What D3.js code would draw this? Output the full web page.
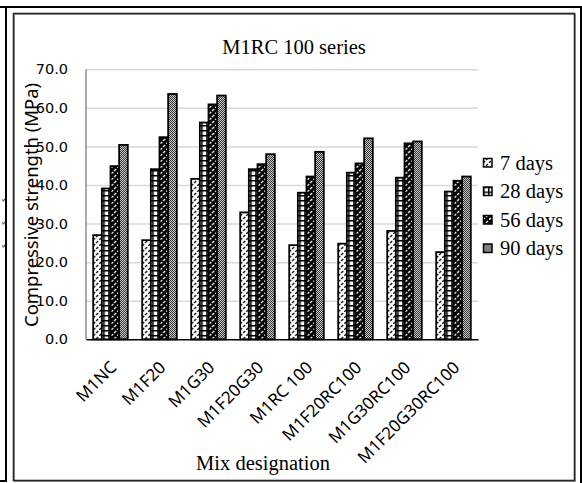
<!DOCTYPE html>
<html>
<head>
<meta charset="utf-8">
<script src="https://cdn.jsdelivr.net/npm/d3@7"></script>
<style>
  html, body { margin: 0; padding: 0; background: #fff; }
  svg { display: block; }
</style>
</head>
<body>
<svg id="chart" width="582" height="483"></svg>
<script>
// Compressive strength of the M1RC 100 series mixes at four curing ages (MPa)
const categories = ["M1NC", "M1F20", "M1G30", "M1F20G30", "M1RC 100", "M1F20RC100", "M1G30RC100", "M1F20G30RC100"];
const seriesNames = ["7 days", "28 days", "56 days", "90 days"];
const days7  = [27.0, 25.7, 41.6, 32.9, 24.4, 24.8, 28.1, 22.6];
const days28 = [39.1, 44.1, 56.2, 44.1, 38.0, 43.2, 41.9, 38.3];
const days56 = [44.9, 52.4, 60.9, 45.4, 42.2, 45.6, 50.8, 41.1];
const days90 = [50.4, 63.6, 63.2, 48.0, 48.6, 52.1, 51.3, 42.2];
const yTicks = [0, 10, 20, 30, 40, 50, 60, 70];

const seriesValues = [days7, days28, days56, days90];
const patternIds = ["pat7", "pat28", "pat56", "pat90"];

const svg = d3.select("#chart");
const serif = "'Liberation Serif', 'Times New Roman', serif";
const sans = "'Noto Sans', 'DejaVu Sans', sans-serif";

// ---- fill patterns ----
const defs = svg.append("defs");

// light dashed upward diagonal
const p7 = defs.append("pattern").attr("id", "pat7").attr("patternUnits", "userSpaceOnUse")
  .attr("width", 6).attr("height", 6);
p7.append("rect").attr("width", 6).attr("height", 6).attr("fill", "#fff");
p7.append("path").attr("d", "M0,6 L2,4 M3,3 L5,1").attr("stroke", "#000").attr("stroke-width", 1.3);

// large grid
const p28 = defs.append("pattern").attr("id", "pat28").attr("patternUnits", "userSpaceOnUse")
  .attr("width", 5).attr("height", 5);
p28.append("rect").attr("width", 5).attr("height", 5).attr("fill", "#fff");
p28.append("path").attr("d", "M0,0.75 H5 M0.75,0 V5").attr("stroke", "#000").attr("stroke-width", 1.5);

// dark dashed upward diagonal
const p56 = defs.append("pattern").attr("id", "pat56").attr("patternUnits", "userSpaceOnUse")
  .attr("width", 6).attr("height", 6);
p56.append("rect").attr("width", 6).attr("height", 6).attr("fill", "#000");
p56.append("path").attr("d", "M0,6 L2,4 M3,3 L5,1").attr("stroke", "#fff").attr("stroke-width", 1.3);

// small checkerboard
const p90 = defs.append("pattern").attr("id", "pat90").attr("patternUnits", "userSpaceOnUse")
  .attr("width", 2).attr("height", 2);
p90.append("rect").attr("width", 2).attr("height", 2).attr("fill", "#fff");
p90.append("rect").attr("width", 1).attr("height", 1).attr("fill", "#000");
p90.append("rect").attr("x", 1).attr("y", 1).attr("width", 1).attr("height", 1).attr("fill", "#000");

// ---- frames ----
const frame = svg.append("g").attr("fill", "none");
frame.append("path").attr("d", "M0,7 H581 V483").attr("stroke", "#000").attr("stroke-width", 2);
frame.append("path").attr("d", "M6,7 V481 H0").attr("stroke", "#000").attr("stroke-width", 2);
frame.append("rect").attr("x", 14.5).attr("y", 14.5).attr("width", 561).attr("height", 467)
  .attr("stroke", "#a6a6a6").attr("stroke-width", 1);
frame.append("rect").attr("x", 13.5).attr("y", 13.5).attr("width", 561).attr("height", 467)
  .attr("stroke", "#262626").attr("stroke-width", 1.6);

// small glyphs in the left margin
const edge = svg.append("g").attr("font-family", serif).attr("font-size", 9).attr("fill", "#000");
[200, 223, 246].forEach(yy => {
  edge.append("text").attr("transform", `translate(2.4,${yy}) rotate(90)`)
    .attr("text-anchor", "middle").text("s");
});

// ---- scales ----
const x = d3.scaleBand().domain(categories).range([86, 478]).paddingInner(0.294).paddingOuter(0.147);
const xs = d3.scaleBand().domain(seriesNames).range([0, x.bandwidth()]);
const y = d3.scaleLinear().domain([0, 70]).range([339.3, 69.3]);

// gridlines
const grid = svg.append("g").attr("transform", "translate(86,0)")
  .call(d3.axisLeft(y).tickValues(yTicks.filter(d => d > 0)).tickSize(-392).tickFormat(""));
grid.select(".domain").remove();
grid.selectAll("line").attr("stroke", "#d9d9d9").attr("stroke-width", 1.5);

// y axis line
svg.append("line").attr("x1", 86).attr("x2", 86).attr("y1", y(70)).attr("y2", y(0))
  .attr("stroke", "#595959").attr("stroke-width", 1);

// y tick labels
const yAxis = svg.append("g").attr("transform", "translate(86,0)")
  .call(d3.axisLeft(y).tickValues(yTicks).tickSize(0).tickPadding(18).tickFormat(d3.format(".1f")));
yAxis.select(".domain").remove();
yAxis.selectAll("text").attr("font-family", "'DejaVu Sans', sans-serif").attr("font-size", 14.5)
  .attr("fill", "#000");

// ---- bars ----
const groups = svg.append("g").selectAll("g").data(categories).join("g")
  .attr("transform", d => `translate(${x(d)},0)`);
groups.selectAll("rect")
  .data((c, i) => seriesNames.map((s, k) => ({ s, k, v: seriesValues[k][i] })))
  .join("rect")
  .attr("x", d => xs(d.s))
  .attr("y", d => y(d.v))
  .attr("width", xs.bandwidth())
  .attr("height", d => y(0) - y(d.v))
  .attr("fill", d => `url(#${patternIds[d.k]})`)
  .attr("stroke", "#000").attr("stroke-width", 1.8);

// x axis
const xAxis = svg.append("g").attr("transform", `translate(0,${y(0)})`)
  .call(d3.axisBottom(x).tickSize(0).tickPadding(0));
xAxis.select(".domain").attr("stroke", "#000").attr("stroke-width", 1.5);
xAxis.selectAll(".tick text")
  .attr("font-family", sans).attr("font-size", 17).attr("fill", "#000")
  .attr("text-anchor", "end")
  .attr("dy", "0.35em")
  .attr("transform", "translate(3,25) rotate(-45)")
  .attr("y", 0);

// ---- titles ----
svg.append("text").attr("x", 294).attr("y", 54).attr("text-anchor", "middle")
  .attr("font-family", serif).attr("font-size", 20.5).attr("fill", "#000")
  .text("M1RC 100 series");

svg.append("text").attr("transform", "translate(38,205) rotate(-90)").attr("text-anchor", "middle")
  .attr("font-family", sans).attr("font-size", 18).attr("fill", "#000")
  .attr("textLength", 244).attr("lengthAdjust", "spacingAndGlyphs")
  .text("Compressive strength (MPa)");

svg.append("text").attr("x", 263).attr("y", 470).attr("text-anchor", "middle")
  .attr("font-family", serif).attr("font-size", 20.5).attr("fill", "#000")
  .text("Mix designation");

// ---- legend ----
const legend = svg.append("g").selectAll("g").data(seriesNames).join("g")
  .attr("transform", (d, i) => `translate(483,${163 + i * 28.5})`);
legend.append("rect").attr("x", 0.5).attr("y", -4.5).attr("width", 8.5).attr("height", 8.5)
  .attr("fill", (d, i) => `url(#${patternIds[i]})`).attr("stroke", "#000").attr("stroke-width", 1.5);
legend.append("text").attr("x", 17).attr("y", 6.5)
  .attr("font-family", serif).attr("font-size", 20.5).attr("fill", "#000")
  .text(d => d);
</script>
</body>
</html>
